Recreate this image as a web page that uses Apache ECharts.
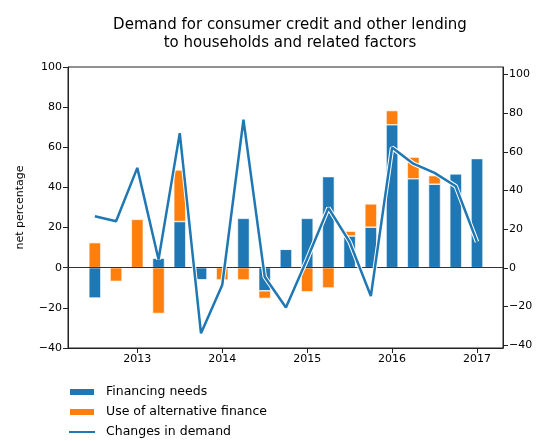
<!DOCTYPE html>
<html>
<head>
    <meta charset="UTF-8">
    <title>Demand for consumer credit</title>
    <script src="https://cdn.jsdelivr.net/npm/echarts@6/dist/echarts.min.js"></script>
    <style>
        html, body { margin: 0; padding: 0; background: #fff; }
        #chart { width: 540px; height: 441px; }
    </style>
</head>
<body>
    <div id="chart"></div>
    <script>
        // quarters (first day of quarter)
        var quarters = ['2012-07', '2012-10', '2013-01', '2013-04', '2013-07', '2013-10', '2014-01', '2014-04',
            '2014-07', '2014-10', '2015-01', '2015-04', '2015-07', '2015-10', '2016-01', '2016-04',
            '2016-07', '2016-10', '2017-01'];
        var financingNeeds = [-15.1, 0, 0, 4.7, 23.0, -6.1, 0, 24.6, -11.5, 9.2, 24.6, 45.4, 15.8, 20.2, 71.2, 44.3, 41.6, 46.8, 54.4];
        var alternativeFinance = [12.5, -6.8, 24.1, -22.8, 25.7, 0, -6.1, -6.1, -3.8, 0, -12.0, -10.1, 2.4, 11.6, 7.1, 10.8, 4.3, 0, 0];
        var changesInDemand = [26.7, 24.1, 51.7, 4.3, 69.7, -33.9, -8.9, 76.6, -4.6, -20.5, 4.5, 31.0, 13.4, -14.6, 62.2, 53.9, 49.1, 42.2, 13.4];
        var yearTicks = [2013, 2014, 2015, 2016, 2017];
        var rightTicks = [-40, -20, 0, 20, 40, 60, 80, 100];

        var chart = echarts.init(document.getElementById('chart'));

        function toYear(q) {
            var p = q.split('-');
            return +p[0] + (+p[1] - 1) / 12;
        }
        function fmt(v) { return String(v).replace('-', '\u2212'); }

        // main frame: date axis range
        var xMin = 2012.184, xMax = 2017.306;
        var gLeft = 68, gRight = 37, gTop = 67, gBottom = 93;
        var ppy = (540 - gLeft - gRight) / (xMax - xMin);
        // second grid holding the quarterly bars/line, aligned with the date axis
        var qLeft = gLeft + (toYear(quarters[0]) - xMin) * ppy - 0.125 * ppy;
        var qRight = 540 - (qLeft + quarters.length * 0.25 * ppy);

        var font = 'DejaVu Sans';
        var axisText = { color: '#000', fontFamily: font, fontSize: 11 };
        var dark = '#222';

        var option = {
            animation: false,
            title: {
                text: 'Demand for consumer credit and other lending\nto households and related factors',
                left: 285, top: 11, textAlign: 'center',
                textStyle: { fontFamily: font, fontSize: 15, fontWeight: 'normal', color: '#000', lineHeight: 18 }
            },
            grid: [
                { left: gLeft, right: gRight, top: gTop, bottom: gBottom, show: true, borderColor: dark, borderWidth: 1 },
                { left: qLeft, right: qRight, top: gTop, bottom: gBottom }
            ],
            legend: {
                orient: 'vertical', left: 68, top: 385, padding: 0, itemGap: 6, itemWidth: 26, itemHeight: 8,
                textStyle: { fontFamily: font, fontSize: 12.5, color: '#000', lineHeight: 14, padding: [0, 0, 0, 6] },
                data: [
                    { name: 'Financing needs', icon: 'rect' },
                    { name: 'Use of alternative finance', icon: 'rect' },
                    { name: 'Changes in demand', icon: 'path://M0,0 L0.01,0 M0,3 L26,3 L26,5 L0,5 Z M0,8 L0.01,8' }
                ]
            },
            xAxis: [{
                type: 'value', gridIndex: 0, min: xMin, max: xMax,
                axisLine: { onZero: false, lineStyle: { color: dark } },
                axisTick: { length: 5, customValues: yearTicks, lineStyle: { color: dark } },
                axisLabel: Object.assign({ customValues: yearTicks, margin: 6, formatter: function (v) { return String(v); } }, axisText),
                splitLine: { show: false }
            }, {
                type: 'category', gridIndex: 1, data: quarters, boundaryGap: true, show: false
            }],
            yAxis: [{
                type: 'value', gridIndex: 0, min: -40, max: 100, interval: 20,
                name: 'net percentage', nameLocation: 'middle', nameGap: 42,
                nameTextStyle: { fontFamily: font, fontSize: 11, color: '#000' },
                axisLine: { show: true, lineStyle: { color: dark } },
                axisTick: { show: true, length: 5, lineStyle: { color: dark } },
                axisLabel: Object.assign({ margin: 6, formatter: fmt }, axisText),
                splitLine: { show: false }
            }, {
                type: 'value', gridIndex: 0, min: -41.5, max: 103.9, position: 'right',
                axisLine: { show: true, lineStyle: { color: dark } },
                axisTick: { show: true, length: 5, customValues: rightTicks, lineStyle: { color: dark } },
                axisLabel: Object.assign({ customValues: rightTicks, margin: 6, formatter: fmt }, axisText),
                splitLine: { show: false }
            }, {
                type: 'value', gridIndex: 1, min: -40, max: 100, show: false, splitLine: { show: false }
            }, {
                type: 'value', gridIndex: 1, min: -41.5, max: 103.9, show: false, splitLine: { show: false }
            }],
            series: [{
                name: 'zero', type: 'line', xAxisIndex: 0, yAxisIndex: 0, data: [], z: 4, symbol: 'none',
                markLine: {
                    silent: true, symbol: 'none', label: { show: false }, animation: false,
                    lineStyle: { color: '#333', width: 1, type: 'solid' },
                    data: [{ yAxis: 0 }]
                }
            }, {
                name: 'Financing needs', type: 'bar', stack: 'total', barWidth: 12,
                xAxisIndex: 1, yAxisIndex: 2,
                itemStyle: { color: '#1f77b4', borderColor: '#fff', borderWidth: 0.6 },
                data: financingNeeds
            }, {
                name: 'Use of alternative finance', type: 'bar', stack: 'total', barWidth: 12,
                xAxisIndex: 1, yAxisIndex: 2,
                itemStyle: { color: '#ff7f0e', borderColor: '#fff', borderWidth: 0.6 },
                data: alternativeFinance
            }, {
                name: 'outline', type: 'line', xAxisIndex: 1, yAxisIndex: 3, symbol: 'none', z: 5,
                lineStyle: { color: '#fff', width: 4.5 },
                data: changesInDemand
            }, {
                name: 'Changes in demand', type: 'line', xAxisIndex: 1, yAxisIndex: 3, symbol: 'none', z: 6,
                itemStyle: { color: '#1f77b4' },
                lineStyle: { color: '#1f77b4', width: 2.5 },
                data: changesInDemand
            }]
        };

        chart.setOption(option);
    </script>
</body>
</html>
